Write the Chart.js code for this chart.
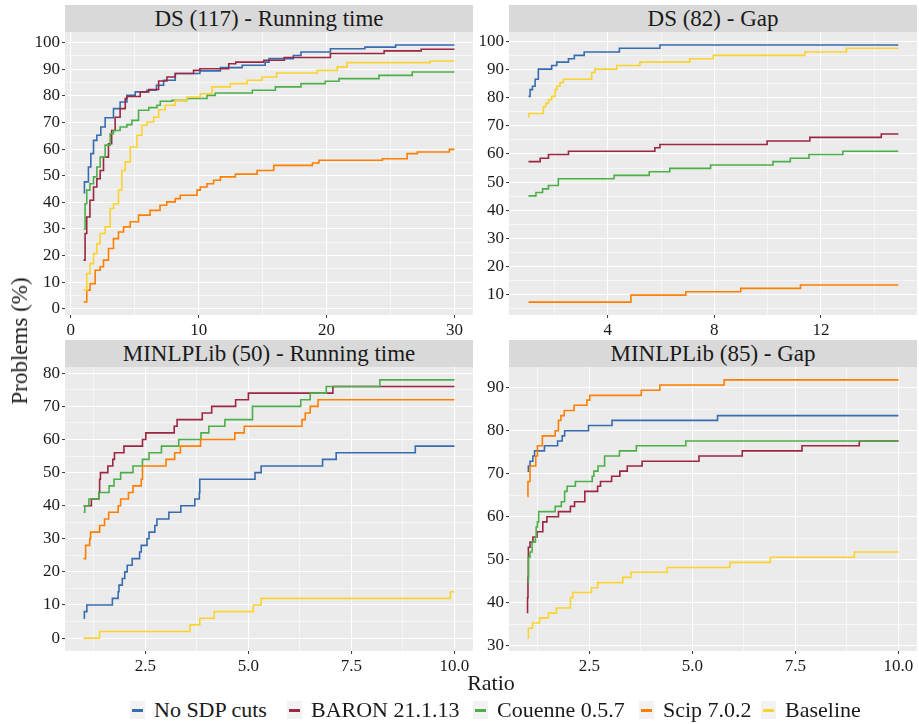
<!DOCTYPE html>
<html>
<head>
<meta charset="utf-8">
<script src="https://cdn.jsdelivr.net/npm/chart.js@4.4.1/dist/chart.umd.min.js"></script>
<style>
  html, body { margin: 0; padding: 0; background: #ffffff; }
  body { width: 919px; height: 724px; position: relative; overflow: hidden; font-family: "Liberation Serif", "Times New Roman", Tinos, "DejaVu Serif", "Noto Serif", FreeSerif, serif; color: #1a1a1a; }
  canvas { position: absolute; }
  .strip { position: absolute; background: #d9d9d9; text-align: center; font-size: 23px; color: #1a1a1a; }
  .ytitle { position: absolute; left: 20px; top: 341px; transform: translate(-50%, -50%) rotate(-90deg); font-size: 23px; white-space: nowrap; }
  .xtitle { position: absolute; left: 491px; top: 683px; transform: translate(-50%, -50%); font-size: 22px; }
  .leg { position: absolute; top: 710px; transform: translateY(-50%); font-size: 22px; white-space: nowrap; }
  .key { position: absolute; top: 701px; width: 15px; height: 18px; background: #f2f2f2; }
  .key span { position: absolute; left: 2px; right: 2px; top: 7.5px; height: 3px; }
</style>
</head>
<body>

<script>
// ---------------- DATA ----------------
const seriesNames = ["No SDP cuts", "BARON 21.1.13", "Couenne 0.5.7", "Scip 7.0.2", "Baseline"];
const seriesColors = ["#386cb0", "#9b2743", "#4daf4a", "#ff7f00", "#fbd32f"];
const panelTitles = ["DS (117) - Running time", "DS (82) - Gap", "MINLPLib (50) - Running time", "MINLPLib (85) - Gap"];

// Panel 1: DS (117) - Running time  [ratio, % problems]
const dsTimeNoSdp = [[1.0,43.6],[1.07,47.7],[1.38,53.3],[1.57,58.3],[1.78,63.3],[2.04,65.2],[2.35,68.3],[2.69,71.8],[3.34,75.2],[3.86,77.7],[4.39,80.2],[5.04,81.5],[5.95,82.1],[6.7,84.0],[7.26,85.9],[8.17,88.4],[10.1,89.4],[11.7,90.6],[13.4,91.5],[15.2,92.7],[15.5,94.0],[17.4,95.2],[18.0,96.5],[20.3,97.7],[23.0,98.3],[25.4,99.1],[30.0,99.1]];
const dsTimeBaron = [[1.0,18.3],[1.12,28.3],[1.25,34.5],[1.5,40.8],[1.78,45.8],[2.04,48.9],[2.3,52.0],[2.56,57.0],[2.95,62.0],[3.2,67.0],[3.47,72.0],[3.86,75.2],[4.26,79.0],[4.39,79.8],[5.43,81.5],[6.1,82.4],[6.87,85.6],[7.52,87.1],[8.17,88.4],[9.6,89.6],[10.1,90.2],[12.35,92.1],[12.9,92.7],[15.1,93.4],[16.7,94.4],[20.3,95.9],[24.5,96.9],[27.4,97.5],[30.0,97.5]];
const dsTimeCouenne = [[1.0,30.0],[1.12,39.5],[1.25,44.6],[1.5,47.0],[1.78,49.6],[2.04,53.3],[2.3,57.0],[2.69,61.5],[3.08,65.8],[3.34,67.0],[3.86,68.3],[4.39,69.2],[4.78,70.8],[5.3,74.6],[6.1,75.6],[6.74,76.5],[7.0,78.0],[7.9,78.3],[9.1,79.0],[10.65,80.2],[11.3,81.1],[14.2,82.1],[16.0,83.4],[18.0,84.6],[19.9,85.5],[20.97,86.5],[24.1,87.7],[26.7,89.0],[30.0,89.0]];
const dsTimeScip = [[1.0,2.6],[1.25,7.0],[1.51,9.5],[1.91,14.5],[2.3,15.8],[2.56,18.3],[2.95,22.7],[3.34,26.4],[3.73,28.9],[4.13,30.8],[4.65,32.7],[5.3,35.2],[6.2,37.0],[6.98,38.9],[7.5,40.2],[8.17,41.4],[8.56,42.7],[9.87,44.6],[10.13,45.8],[10.65,47.0],[11.17,48.3],[11.7,49.6],[12.87,50.6],[14.57,52.0],[15.87,53.9],[18.9,54.8],[19.4,55.8],[24.36,56.4],[26.3,58.3],[27.1,58.9],[29.6,59.9],[30.0,59.9]];
const dsTimeBaseline = [[1.0,7.0],[1.25,13.3],[1.51,17.0],[1.78,20.8],[2.04,24.5],[2.3,28.3],[2.69,30.8],[3.08,37.7],[3.34,39.5],[3.73,44.6],[3.99,52.0],[4.26,55.2],[4.65,60.8],[5.17,65.2],[5.56,69.0],[5.95,70.2],[6.48,72.0],[6.87,74.8],[7.39,76.5],[8.17,78.3],[9.09,79.6],[10.13,80.8],[11.04,83.4],[12.48,84.6],[13.79,85.9],[14.96,87.1],[16.1,88.6],[19.27,89.6],[20.84,90.9],[21.6,92.5],[28.1,93.1],[30.0,93.1]];

// Panel 2: DS (82) - Gap
const dsGapNoSdp = [[1.03,80.5],[1.09,82.9],[1.18,84.1],[1.28,86.6],[1.4,90.2],[1.9,91.5],[2.09,92.7],[2.53,93.9],[2.75,95.1],[3.12,96.3],[4.44,97.6],[5.96,98.8],[14.9,98.8]];
const dsGapBaron = [[1.03,57.3],[1.47,58.5],[1.78,59.8],[2.53,61.0],[5.77,62.2],[5.96,63.4],[9.98,64.6],[11.58,65.9],[14.26,67.1],[14.9,67.1]];
const dsGapCouenne = [[1.03,45.1],[1.31,46.3],[1.56,47.6],[1.78,48.8],[2.15,51.2],[4.24,52.4],[5.56,53.7],[6.33,54.9],[7.86,56.1],[10.2,57.3],[10.85,58.5],[11.55,59.8],[12.82,61.0],[14.9,61.0]];
const dsGapScip = [[1.03,7.3],[4.87,9.8],[6.93,11.0],[8.99,12.2],[11.23,13.4],[14.9,13.4]];
const dsGapBaseline = [[1.03,73.2],[1.05,74.4],[1.59,76.8],[1.68,78.0],[1.78,79.3],[1.9,80.5],[2.03,82.9],[2.09,84.1],[2.21,85.4],[2.34,86.6],[3.4,89.0],[3.52,90.2],[4.34,91.5],[5.21,92.7],[7.08,93.9],[7.96,95.1],[11.39,96.3],[12.95,97.6],[14.9,97.6]];

// Panel 3: MINLPLib (50) - Running time
const minTimeNoSdp = [[1.0,6],[1.02,8],[1.08,10],[1.7,12],[1.84,14],[1.86,16],[1.94,18],[2.0,20],[2.06,22],[2.18,24],[2.36,26],[2.4,28],[2.54,30],[2.59,32],[2.73,34],[2.78,36],[3.07,38],[3.36,40],[3.7,42],[3.81,44],[3.82,48],[5.16,50],[5.31,52],[6.8,54],[7.13,56],[9.05,58],[10.0,58]];
const minTimeBaron = [[1.0,40],[1.19,42],[1.37,44],[1.39,48],[1.41,50],[1.59,52],[1.71,54],[1.75,56],[1.98,58],[2.43,60],[2.51,62],[3.2,64],[3.27,66],[3.88,68],[4.11,70],[4.69,72],[5.0,74],[7.05,76],[10.0,76]];
const minTimeCouenne = [[1.0,38],[1.03,40],[1.13,42],[1.37,44],[1.62,46],[1.74,48],[1.9,50],[2.2,52],[2.43,54],[2.59,56],[2.89,58],[3.31,60],[3.85,62],[4.04,64],[4.43,66],[5.1,70],[6.27,72],[6.5,74],[6.89,76],[8.19,78],[10.0,78]];
const minTimeScip = [[1.0,24],[1.05,28],[1.15,30],[1.17,32],[1.39,34],[1.51,36],[1.61,38],[1.84,40],[1.9,42],[2.09,44],[2.2,46],[2.4,48],[2.43,52],[3.0,54],[3.21,56],[3.35,58],[3.84,60],[4.67,62],[4.9,64],[6.3,66],[6.38,68],[6.5,70],[6.69,72],[10.0,72]];
const minTimeBaseline = [[1.0,0],[1.39,2],[3.58,4],[3.82,6],[4.17,8],[5.12,10],[5.31,12],[9.9,14],[10.0,14]];

// Panel 4: MINLPLib (85) - Gap
const minGapNoSdp = [[1.0,70.6],[1.02,71.8],[1.06,72.9],[1.13,74.1],[1.17,75.3],[1.41,76.5],[1.73,77.6],[1.84,78.8],[1.9,80.0],[2.48,81.2],[3.05,82.4],[5.61,83.5],[10.0,83.5]];
const minGapBaron = [[1.0,37.6],[1.0,41.2],[1.01,45.9],[1.02,52.9],[1.06,54.1],[1.13,55.3],[1.23,56.5],[1.37,58.8],[1.47,60.0],[1.75,61.2],[2.04,62.4],[2.14,63.5],[2.39,65.9],[2.7,67.1],[2.77,68.2],[3.04,69.4],[3.24,70.6],[3.42,71.8],[3.78,72.9],[5.16,74.1],[6.21,75.3],[7.66,76.5],[9.05,77.6],[10.0,77.6]];
const minGapCouenne = [[1.0,44.7],[1.02,50.6],[1.06,51.8],[1.11,54.1],[1.19,55.3],[1.21,57.6],[1.24,58.8],[1.27,61.2],[1.67,62.4],[1.82,63.5],[1.9,65.9],[1.96,67.1],[2.16,68.2],[2.57,69.4],[2.61,70.6],[2.71,71.8],[2.87,74.1],[3.23,75.3],[3.64,76.5],[4.84,77.6],[10.0,77.6]];
const minGapScip = [[1.0,64.7],[1.01,68.2],[1.06,71.8],[1.2,74.1],[1.24,76.5],[1.36,78.8],[1.67,80.0],[1.75,82.4],[1.81,83.5],[1.89,84.7],[2.13,85.9],[2.44,87.1],[2.51,88.2],[3.76,89.4],[4.21,90.6],[5.77,91.8],[10.0,91.8]];
const minGapBaseline = [[1.0,31.8],[1.02,34.1],[1.12,35.3],[1.29,36.5],[1.51,37.6],[1.7,38.8],[2.04,41.2],[2.1,42.4],[2.55,43.5],[2.7,44.7],[3.31,45.9],[3.51,47.1],[4.39,48.2],[5.91,49.4],[6.89,50.6],[8.93,51.8],[10.0,51.8]];

// Tick values (major = labelled, minor = grid only)
const p1XMajor = [0, 10, 20, 30];          const p1XMinor = [5, 15, 25];
const p1YMajor = [0,10,20,30,40,50,60,70,80,90,100]; const p1YMinor = [5,15,25,35,45,55,65,75,85,95];
const p2XMajor = [4, 8, 12];               const p2XMinor = [2, 6, 10, 14];
const p2YMajor = [10,20,30,40,50,60,70,80,90,100];   const p2YMinor = [5,15,25,35,45,55,65,75,85,95];
const p3XMajor = [2.5, 5, 7.5, 10];        const p3XMinor = [1.25, 3.75, 6.25, 8.75];
const p3YMajor = [0,10,20,30,40,50,60,70,80];       const p3YMinor = [5,15,25,35,45,55,65,75];
const p4XMajor = [2.5, 5, 7.5, 10];        const p4XMinor = [1.25, 3.75, 6.25, 8.75];
const p4YMajor = [30,40,50,60,70,80,90];             const p4YMinor = [35,45,55,65,75,85];

// ---------------- LAYOUT ----------------
const plotRects = [
  {L: 65,  R: 473, T: 32,  B: 315},
  {L: 509, R: 917, T: 32,  B: 315},
  {L: 65,  R: 473, T: 367, B: 651},
  {L: 509, R: 917, T: 367, B: 651}
];
const Y_AXIS_W = 44, X_AXIS_H = 28;
const FONT = '"Liberation Serif", "Times New Roman", Tinos, "DejaVu Serif", "Noto Serif", FreeSerif, serif';

const bgPlugin = {
  id: 'panelBg',
  beforeDraw(chart) {
    const a = chart.chartArea, c = chart.ctx;
    c.save(); c.fillStyle = '#ebebeb';
    c.fillRect(a.left, a.top, a.right - a.left, a.bottom - a.top);
    c.restore();
  }
};

function makePanel(idx, series, xr, yr, xMajor, xMinor, yMajor, yMinor, xFmt) {
  const r = plotRects[idx];
  const cv = document.createElement('canvas');
  const left = r.L - Y_AXIS_W, top = r.T;
  const w = r.R - left, h = r.B - r.T + X_AXIS_H;
  cv.width = w; cv.height = h;
  cv.style.left = left + 'px'; cv.style.top = top + 'px';
  cv.style.width = w + 'px'; cv.style.height = h + 'px';
  document.body.appendChild(cv);

  const strip = document.createElement('div');
  strip.className = 'strip';
  strip.style.left = r.L + 'px'; strip.style.width = (r.R - r.L) + 'px';
  strip.style.top = (r.T - 27) + 'px'; strip.style.height = '27px'; strip.style.lineHeight = '27px';
  strip.textContent = panelTitles[idx];
  document.body.appendChild(strip);

  const datasets = series.map((s, i) => ({
    label: seriesNames[i],
    data: s.map(p => ({x: p[0], y: p[1]})),
    borderColor: seriesColors[i],
    backgroundColor: seriesColors[i],
    borderWidth: 1.6,
    pointRadius: 0,
    stepped: true,
    fill: false,
    order: series.length - i
  }));

  const axis = (min, max, major, minor, fmt, isX) => ({
    type: 'linear',
    min, max,
    afterBuildTicks: (sc) => {
      sc.ticks = major.concat(minor).sort((a, b) => a - b).map(v => ({value: v}));
    },
    afterFit: (sc) => {
      if (isX) sc.height = X_AXIS_H; else sc.width = Y_AXIS_W;
      sc.paddingTop = 0; sc.paddingBottom = 0; sc.paddingLeft = 0; sc.paddingRight = 0;
    },
    border: {display: false},
    grid: {
      color: '#ffffff',
      lineWidth: (ctx) => (ctx.tick && major.includes(ctx.tick.value)) ? 1.1 : 0.55,
      tickColor: (ctx) => (ctx.tick && major.includes(ctx.tick.value)) ? '#333333' : 'rgba(0,0,0,0)',
      tickWidth: 1,
      tickLength: 3,
      drawOnChartArea: true
    },
    ticks: {
      autoSkip: false,
      maxRotation: 0,
      padding: 2,
      color: '#1a1a1a',
      font: {family: FONT, size: 17},
      callback: (v) => major.includes(v) ? fmt(v) : ''
    }
  });

  new Chart(cv, {
    type: 'line',
    data: {datasets},
    options: {
      responsive: false,
      animation: false,
      devicePixelRatio: 1,
      layout: {padding: 0},
      plugins: {legend: {display: false}, tooltip: {enabled: false}, title: {display: false}},
      scales: {
        x: axis(xr[0], xr[1], xMajor, xMinor, xFmt, true),
        y: axis(yr[0], yr[1], yMajor, yMinor, v => String(v), false)
      }
    },
    plugins: [bgPlugin]
  });
}

const intFmt = v => String(v);
const decFmt = v => v.toFixed(1);

makePanel(0, [dsTimeNoSdp, dsTimeBaron, dsTimeCouenne, dsTimeScip, dsTimeBaseline], [-0.45, 31.45], [-2.3, 104.0], p1XMajor, p1XMinor, p1YMajor, p1YMinor, intFmt);
makePanel(1, [dsGapNoSdp, dsGapBaron, dsGapCouenne, dsGapScip, dsGapBaseline], [0.3, 15.6], [2.73, 103.4], p2XMajor, p2XMinor, p2YMajor, p2YMinor, intFmt);
makePanel(2, [minTimeNoSdp, minTimeBaron, minTimeCouenne, minTimeScip, minTimeBaseline], [0.55, 10.45], [-3.9, 81.9], p3XMajor, p3XMinor, p3YMajor, p3YMinor, decFmt);
makePanel(3, [minGapNoSdp, minGapBaron, minGapCouenne, minGapScip, minGapBaseline], [0.55, 10.45], [28.8, 94.8], p4XMajor, p4XMinor, p4YMajor, p4YMinor, decFmt);

// axis titles
const yt = document.createElement('div'); yt.className = 'ytitle'; yt.textContent = 'Problems (%)'; document.body.appendChild(yt);
const xt = document.createElement('div'); xt.className = 'xtitle'; xt.textContent = 'Ratio'; document.body.appendChild(xt);

// legend
const legendTextX = [154, 311, 497, 663, 785];
seriesNames.forEach((name, i) => {
  const k = document.createElement('div'); k.className = 'key';
  k.style.left = (legendTextX[i] - 24) + 'px';
  const ln = document.createElement('span'); ln.style.background = seriesColors[i]; k.appendChild(ln);
  document.body.appendChild(k);
  const t = document.createElement('div'); t.className = 'leg';
  t.style.left = legendTextX[i] + 'px'; t.textContent = name;
  document.body.appendChild(t);
});
</script>
</body>
</html>
